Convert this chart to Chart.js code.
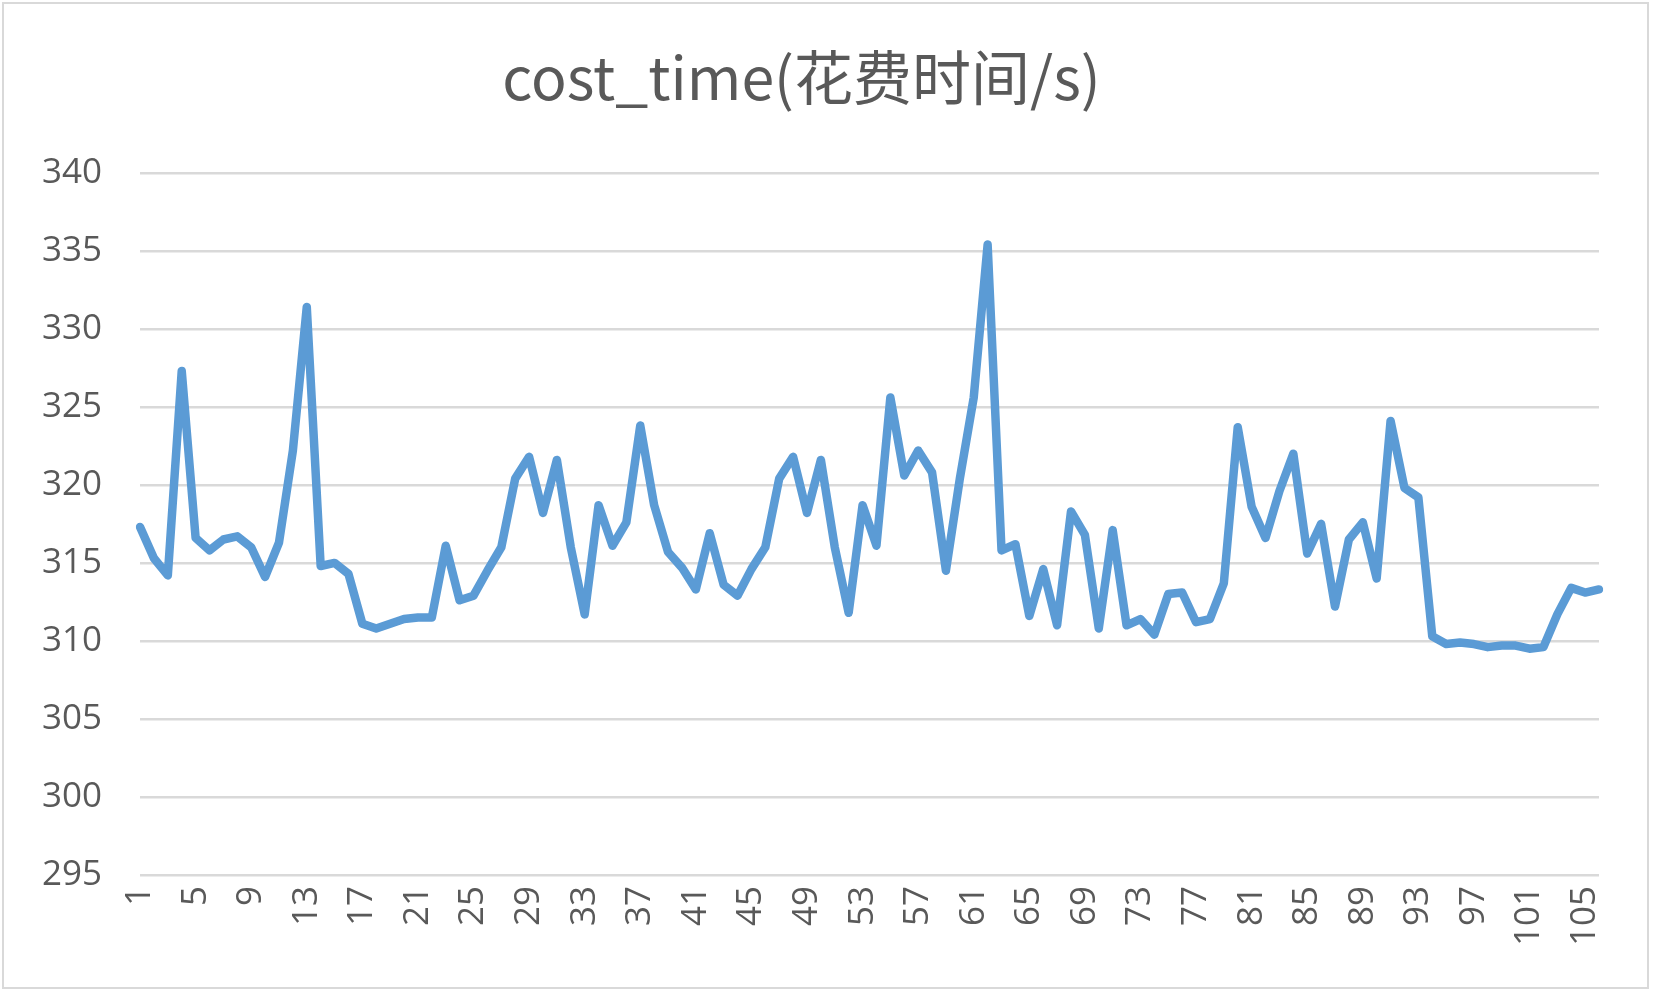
<!DOCTYPE html>
<html><head><meta charset="utf-8">
<script src="https://cdn.jsdelivr.net/npm/chart.js@4/dist/chart.umd.min.js"></script>
<style>html,body{margin:0;padding:0;background:#fff}
#w{position:absolute;left:2px;top:2px;width:1647px;height:987px;border:2px solid #d9d9d9;box-sizing:border-box}
canvas{display:block}</style></head><body>
<div id="w"><canvas id="c"></canvas></div>
<script>
const titleText = 'cost_time(花费时间/s)';
const categories = Array.from({length:106},(_,i)=>String(i+1));
const costTime = [317.3,315.3,314.2,327.3,316.6,315.8,316.5,316.7,316.0,314.1,
316.3,322.2,331.4,314.8,315.0,314.3,311.1,310.8,311.1,311.4,
311.5,311.5,316.1,312.6,312.9,314.5,316.0,320.4,321.8,318.2,
321.6,316.0,311.7,318.7,316.1,317.6,323.8,318.7,315.7,314.7,
313.3,316.9,313.6,312.9,314.6,316.0,320.4,321.8,318.2,321.6,
316.0,311.8,318.7,316.1,325.6,320.6,322.2,320.8,314.5,320.4,
325.6,335.4,315.8,316.2,311.6,314.6,311.0,318.3,316.8,310.8,
317.1,311.0,311.4,310.4,313.0,313.1,311.2,311.4,313.7,323.7,
318.6,316.6,319.6,322.0,315.6,317.5,312.2,316.5,317.6,314.0,
324.1,319.8,319.2,310.3,309.8,309.9,309.8,309.6,309.7,309.7,
309.5,309.6,311.7,313.4,313.1,313.3];
const yMin = 295, yMax = 340, yStep = 5;

const cv = document.getElementById('c');
cv.width = 1643; cv.height = 983;
new Chart(cv, {
  type:'line',
  data:{labels:categories,datasets:[{data:costTime,borderColor:'#5b9bd5',borderWidth:8.5,pointRadius:0,tension:0,borderJoinStyle:'round',borderCapStyle:'round'}]},
  options:{
    responsive:false,animation:false,
    layout:{padding:{left:0,right:48,top:20,bottom:38}},
    plugins:{legend:{display:false},tooltip:{enabled:false},
      title:{display:true,text:titleText,color:'#595959',font:{family:'"Noto Sans CJK SC","Open Sans",sans-serif',size:59,weight:'normal'},padding:{top:18,bottom:60}}},
    scales:{
      x:{offset:false,grid:{display:false},border:{display:false},
        ticks:{autoSkip:false,maxRotation:90,minRotation:90,color:'#595959',font:{family:'"Open Sans",sans-serif',size:35},
          callback:(v,i)=> i%4===0 ? categories[i] : ''}},
      y:{min:yMin,max:yMax,border:{display:false},grid:{color:'#d9d9d9',lineWidth:2.5,drawTicks:false},
        ticks:{stepSize:yStep,color:'#595959',padding:38,font:{family:'"Open Sans",sans-serif',size:35}}}
    }
  }
});
</script></body></html>
